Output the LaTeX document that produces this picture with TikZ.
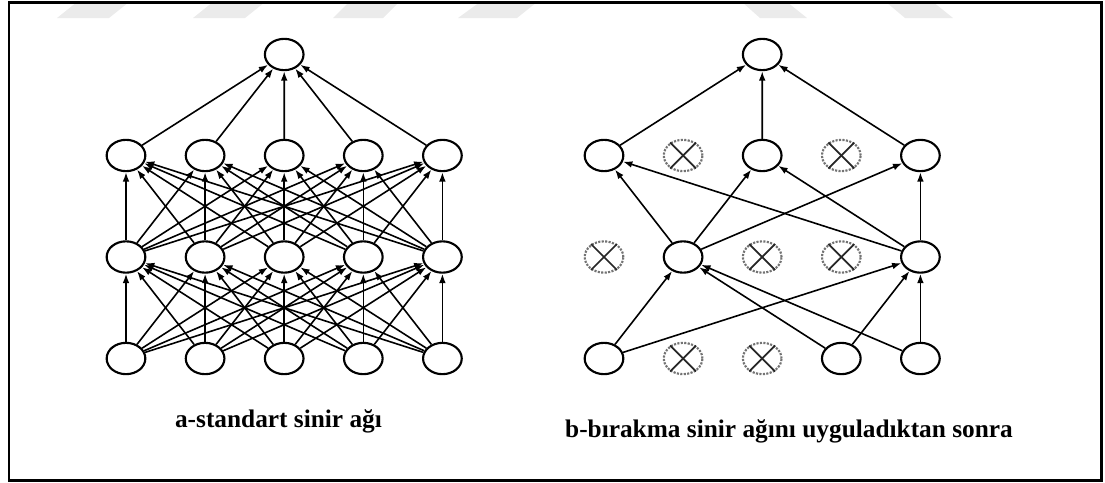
\documentclass[tikz,border=0pt]{standalone}
\usepackage{fontspec}
\setmainfont{Liberation Serif}
\usetikzlibrary{shapes.geometric,arrows.meta}

\begin{document}
\begin{tikzpicture}[x=0.75pt,y=-0.75pt,
  neuron/.style={ellipse,draw=black,line width=1.6pt,fill=white,
    minimum width=29pt,minimum height=23.5pt,inner sep=0pt},
  dropped/.style={ellipse,draw=black!55,line width=1.6pt,densely dotted,fill=white,
    minimum width=29pt,minimum height=23.5pt,inner sep=0pt},
  link/.style={line width=1.2pt,-{Latex[length=7pt,width=5pt]}},
  cross/.style={line width=1.3pt,black!85},
  caption/.style={font=\bfseries\fontsize{19}{22}\selectfont,inner sep=0pt,anchor=base},
  band/.style={fill=black!8,draw=none}
]
\useasboundingbox (0,0) rectangle (1105,482);

% light stripes along the top edge
\fill[band] (57,18) -- (109,18) -- (129,2) -- (77,2) -- cycle;
\fill[band] (193,18) -- (245,18) -- (265,2) -- (213,2) -- cycle;
\fill[band] (333,18) -- (383,18) -- (399,2) -- (349,2) -- cycle;
\fill[band] (458,18) -- (517,18) -- (537,2) -- (480,2) -- cycle;
\fill[band] (742,2) -- (787,2) -- (807,18) -- (760,18) -- cycle;
\fill[band] (886,2) -- (933,2) -- (953,18) -- (905,18) -- cycle;

% outer frame
\draw[line width=2pt] (9,2.7) rectangle (1101.5,480.5);

% ---------- (a) standard network ----------
\foreach \i in {1,...,5} {
  \pgfmathsetmacro\xx{126+79.1*(\i-1)}
  \node[neuron] (ain\i) at (\xx,358.5) {};
  \node[neuron] (ahA\i) at (\xx,257) {};
  \node[neuron] (ahB\i) at (\xx,155.5) {};
}
\node[neuron] (aout) at (284.2,54.5) {};

\foreach \i in {1,...,5} {
  \foreach \j in {1,...,5} {
    \draw[link] (ain\i) -- (ahA\j);
    \draw[link] (ahA\i) -- (ahB\j);
  }
  \draw[link] (ahB\i) -- (aout);
}

% ---------- (b) network after dropout ----------
\foreach \i/\kin/\kA/\kB in {1/neuron/dropped/neuron,2/dropped/neuron/dropped,
                             3/dropped/dropped/neuron,4/neuron/dropped/dropped,
                             5/neuron/neuron/neuron} {
  \pgfmathsetmacro\xx{604+79.1*(\i-1)}
  \node[\kin] (bin\i) at (\xx,358.5) {};
  \node[\kA] (bhA\i) at (\xx,257) {};
  \node[\kB] (bhB\i) at (\xx,155.5) {};
}
\node[neuron] (bout) at (762.2,54.5) {};

% crosses on the dropped units
\foreach \n in {bin2,bin3,bhA1,bhA3,bhA4,bhB2,bhB4} {
  \draw[cross] (\n.45) -- (\n.225);
  \draw[cross] (\n.135) -- (\n.315);
}

% remaining connections
\foreach \s/\t in {bin1/bhA2,bin4/bhA2,bin5/bhA2,
                   bin1/bhA5,bin4/bhA5,bin5/bhA5,
                   bhA2/bhB1,bhA5/bhB1,bhA2/bhB3,bhA5/bhB3,bhA2/bhB5,bhA5/bhB5,
                   bhB1/bout,bhB3/bout,bhB5/bout} {
  \draw[link] (\s) -- (\t);
}

% captions
\node[caption] (capa) at (278.5,427) {a-standart sinir ağı};
\node[caption] (capb) at (789,437) {b-bırakma sinir ağını uyguladıktan sonra};
\end{tikzpicture}
\end{document}
